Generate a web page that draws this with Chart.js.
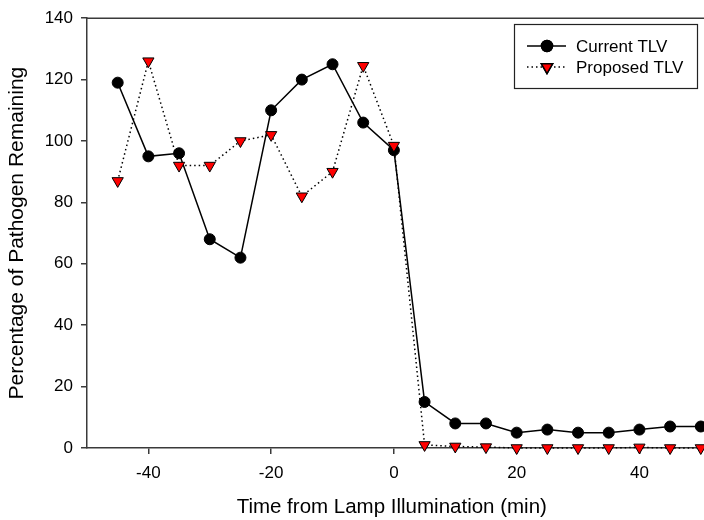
<!DOCTYPE html>
<html>
<head>
<meta charset="utf-8">
<script src="https://cdn.jsdelivr.net/npm/chart.js@4.4.1/dist/chart.umd.min.js"></script>
<style>
  html, body { margin: 0; padding: 0; background: #fff; }
  #wrap { width: 704px; height: 520px; }
</style>
</head>
<body>
<div id="wrap"><canvas id="chart"></canvas></div>
<script>
// Données
const times = [-45, -40, -35, -30, -25, -20, -15, -10, -5, 0, 5, 10, 15, 20, 25, 30, 35, 40, 45, 50];
const currentTLV = [119, 95, 96, 68, 62, 110, 120, 125, 106, 97, 15, 8, 8, 5, 6, 5, 5, 6, 7, 7];
const proposedTLV = [87, 126, 92, 92, 100, 102, 82, 90, 124.5, 98.5, 1, 0.5, 0.3, 0, 0, 0, 0, 0.2, 0, 0];
const xTicks = [-40, -20, 0, 20, 40];
const yTicks = [0, 20, 40, 60, 80, 100, 120, 140];

const FONT = 'Liberation Sans, Arial, sans-serif';
const AXIS_COLOR = '#3a3a3a';

// Légende encadrée + ligne du haut
const framePlugin = {
    id: 'frame',
    afterDraw(chart) {
        const ctx = chart.ctx;
        const a = chart.chartArea;
        ctx.save();
        // ligne du haut
        ctx.strokeStyle = AXIS_COLOR;
        ctx.lineWidth = 1.5;
        ctx.beginPath();
        ctx.moveTo(a.left, a.top);
        ctx.lineTo(chart.width, a.top);
        ctx.stroke();

        // cadre de la légende
        ctx.lineWidth = 1.2;
        ctx.strokeStyle = '#222';
        ctx.strokeRect(514.5, 24.5, 183, 64);

        const rows = [
            { y: 46, label: 'Current TLV', ds: chart.data.datasets[0] },
            { y: 67, label: 'Proposed TLV', ds: chart.data.datasets[1] }
        ];
        rows.forEach(r => {
            ctx.strokeStyle = '#000';
            ctx.lineWidth = 1.5;
            ctx.setLineDash(r.ds.borderDash || []);
            ctx.beginPath();
            ctx.moveTo(527, r.y);
            ctx.lineTo(566, r.y);
            ctx.stroke();
            ctx.setLineDash([]);
            Chart.helpers.drawPoint(ctx, {
                pointStyle: r.ds.pointStyle,
                radius: r.ds.pointRadius,
                rotation: r.ds.pointRotation || 0,
                borderWidth: r.ds.pointBorderWidth
            }, 547, r.y);
            ctx.fillStyle = r.ds.pointBackgroundColor;
            ctx.strokeStyle = r.ds.pointBorderColor;
            ctx.fill();
            ctx.stroke();
            ctx.fillStyle = '#000';
            ctx.font = '17px ' + FONT;
            ctx.textBaseline = 'middle';
            ctx.textAlign = 'left';
            ctx.fillText(r.label, 576, r.y + 1);
        });
        ctx.restore();
    }
};

new Chart(document.getElementById('chart').getContext('2d'), {
    type: 'line',
    data: {
        datasets: [{
            label: 'Current TLV',
            data: times.map((t, i) => ({ x: t, y: currentTLV[i] })),
            borderColor: '#000',
            borderWidth: 1.5,
            pointStyle: 'circle',
            pointRadius: 5.5,
            pointBackgroundColor: '#000',
            pointBorderColor: '#000',
            pointBorderWidth: 1,
            tension: 0,
            clip: false,
            order: 2
        }, {
            label: 'Proposed TLV',
            data: times.map((t, i) => ({ x: t, y: proposedTLV[i] })),
            borderColor: '#000',
            borderWidth: 1.5,
            borderDash: [1.5, 3],
            pointStyle: 'triangle',
            pointRotation: 180,
            pointRadius: 6.5,
            pointBackgroundColor: '#ff0000',
            pointBorderColor: '#000',
            pointBorderWidth: 1,
            tension: 0,
            clip: false,
            order: 1
        }]
    },
    options: {
        responsive: true,
        maintainAspectRatio: false,
        animation: false,
        layout: { padding: { top: 15, right: 0, left: 0, bottom: 0 } },
        plugins: { legend: { display: false }, tooltip: { enabled: false } },
        scales: {
            x: {
                type: 'linear',
                min: -50,
                max: 49.3,
                afterBuildTicks: s => { s.ticks = xTicks.map(v => ({ value: v })); },
                afterFit: s => { s.height = 72; },
                grid: { drawOnChartArea: false, tickLength: 6, color: AXIS_COLOR, lineWidth: 1.5 },
                border: { color: AXIS_COLOR, width: 1.5 },
                ticks: { color: '#000', font: { family: FONT, size: 17 }, padding: 9, maxRotation: 0 },
                title: { display: true, text: 'Time from Lamp Illumination (min)', color: '#000',
                         font: { family: FONT, size: 20.5 }, padding: { top: 10, bottom: 0 } }
            },
            y: {
                min: 0,
                max: 140,
                afterBuildTicks: s => { s.ticks = yTicks.map(v => ({ value: v })); },
                afterFit: s => { s.width = 87; },
                grid: { drawOnChartArea: false, tickLength: 6, color: AXIS_COLOR, lineWidth: 1.5 },
                border: { color: AXIS_COLOR, width: 1.5 },
                ticks: { color: '#000', font: { family: FONT, size: 17 }, padding: 8 },
                title: { display: true, text: 'Percentage of Pathogen Remaining', color: '#000',
                         font: { family: FONT, size: 21 }, padding: { top: 5, bottom: 0 } }
            }
        }
    },
    plugins: [framePlugin]
});
</script>
</body>
</html>
